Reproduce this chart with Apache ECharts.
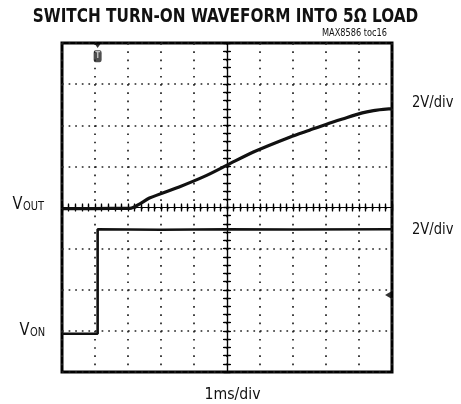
<!DOCTYPE html>
<html><head><meta charset="utf-8">
<script src="https://cdn.jsdelivr.net/npm/echarts@6/dist/echarts.min.js"></script>
<style>html,body{margin:0;padding:0;background:#fff}#c{width:461px;height:404px}</style>
</head><body><div id="c"></div>
<script>
// time in ms relative to screen centre (1 ms/div), voltages in volts (2 V/div)
const voutTime  = [-5, -4, -3, -2.94, -2.64, -2.35, -1.45, -0.7, 0, 0.8, 1.9, 2.5, 3.0, 3.5, 4.1, 4.4, 4.9, 5];
const voutVolts = [-0.06, -0.05, -0.04, -0.04, 0.18, 0.46, 1.0, 1.5, 2.06, 2.7, 3.42, 3.76, 4.04, 4.3, 4.6, 4.7, 4.8, 4.8];
const vonTime   = [-5, -3.92, -3.92, -2, 0, 2, 5];
const vonVolts  = [0, 0, 5.08, 5.06, 5.08, 5.07, 5.08];
const triggerTime = [-3.92];
const ch2MarkerDiv = [-2.13];
const voltsPerDiv = 2;
const voutGroundDiv = 0;
const vonGroundDiv = -3.07;
const timeMin = -5, timeMax = 5, divMin = -4, divMax = 4;

const FONT = '"Liberation Sans Narrow","DejaVu Sans Condensed","Liberation Sans",sans-serif';
const chart = echarts.init(document.getElementById('c'), null, {renderer: 'canvas'});

const G = {left: 62, top: 43, width: 330, height: 329};
function borderAxis(pos, gi, isX, split) {
  return {
    type: 'value', gridIndex: gi, position: pos,
    min: isX ? timeMin : divMin, max: isX ? timeMax : divMax, interval: 1,
    axisLine: {show: false},
    axisLabel: {show: false},
    axisTick: {show: true, inside: true, length: 4, lineStyle: {color: '#000', width: 1.2}},
    minorTick: {show: true, splitNumber: 5, length: 4, lineStyle: {color: '#000', width: 1.2}},
    splitLine: {show: split, lineStyle: {color: '#222', width: 1.7, type: isX ? [1.7, 6.52] : [1.7, 4.9]}}
  };
}
function centerAxis(pos, gi, isX) {
  return {
    type: 'value', gridIndex: gi, position: pos,
    min: isX ? timeMin : divMin, max: isX ? timeMax : divMax, interval: 1,
    axisLine: {show: true, onZero: true, lineStyle: {color: '#000', width: 1.2}},
    axisLabel: {show: false},
    axisTick: {show: true, inside: false, length: 3, lineStyle: {color: '#000', width: 1.3}},
    minorTick: {show: true, splitNumber: 5, length: 3, lineStyle: {color: '#000', width: 1.3}},
    splitLine: {show: false}
  };
}
function txt(text, x, y, size, opts) {
  opts = opts || {};
  return {
    type: 'text', x: x, y: y, scaleX: opts.sx || 1, z: 100,
    style: {text: text, font: (opts.bold ? 'bold ' : '') + size + 'px ' + FONT, fill: '#111',
            align: opts.align || 'left', verticalAlign: 'middle'}
  };
}

const option = {
  animation: false,
  backgroundColor: '#fff',
  grid: [
    Object.assign({show: true, borderColor: '#000', borderWidth: 3, backgroundColor: 'transparent'}, G),
    Object.assign({show: false}, G)
  ],
  xAxis: [
    borderAxis('bottom', 0, true, true),
    borderAxis('top', 0, true, false),
    centerAxis('bottom', 1, true),
    centerAxis('top', 1, true)
  ],
  yAxis: [
    borderAxis('left', 0, false, true),
    borderAxis('right', 0, false, false),
    centerAxis('left', 1, false),
    centerAxis('right', 1, false)
  ],
  series: [
    {
      type: 'line', xAxisIndex: 2, yAxisIndex: 2, showSymbol: false, smooth: 0.3,
      data: voutTime.map((t, i) => [t, voutVolts[i] / voltsPerDiv + voutGroundDiv]),
      lineStyle: {color: '#111', width: 3.2}, z: 5
    },
    {
      type: 'line', xAxisIndex: 2, yAxisIndex: 2, showSymbol: false,
      data: vonTime.map((t, i) => [t, vonVolts[i] / voltsPerDiv + vonGroundDiv]),
      lineStyle: {color: '#111', width: 2.6}, z: 5
    },
    {
      type: 'scatter', xAxisIndex: 2, yAxisIndex: 2,
      data: triggerTime.map(t => [t, divMax - 0.32]),
      symbol: 'roundRect', symbolSize: [8, 12],
      itemStyle: {color: '#222'},
      label: {show: true, position: 'inside', formatter: 'T', color: '#ddd', fontSize: 8, fontWeight: 'bold', fontFamily: FONT},
      z: 6
    },
    {
      type: 'scatter', xAxisIndex: 2, yAxisIndex: 2,
      data: triggerTime.map(t => [t, divMax - 0.06]),
      symbol: 'triangle', symbolRotate: 180, symbolSize: [7, 5],
      itemStyle: {color: '#000'}, z: 6
    },
    {
      type: 'scatter', xAxisIndex: 2, yAxisIndex: 2,
      data: ch2MarkerDiv.map(d => [timeMax - 0.12, d]),
      symbol: 'triangle', symbolRotate: 90, symbolSize: [7, 6],
      itemStyle: {color: '#000'}, z: 6
    }
  ],
  graphic: [
    txt('SWITCH TURN-ON WAVEFORM INTO 5\u03A9 LOAD', 225.5, 17, 20, {bold: true, align: 'center', sx: 0.85}),
    txt('MAX8586 toc16', 387, 33, 11, {align: 'right', sx: 0.83}),
    txt('2V/div', 412, 103, 16, {sx: 0.91}),
    txt('2V/div', 412, 230, 16, {sx: 0.91}),
    txt('1ms/div', 232.5, 395, 16.5, {align: 'center', sx: 0.95}),
    txt('V', 12.5, 205, 17, {sx: 0.95}),
    txt('OUT', 23, 207, 12.5, {sx: 0.88}),
    txt('V', 19.5, 331, 17, {sx: 0.95}),
    txt('ON', 30, 333, 12.5, {sx: 0.88})
  ]
};
chart.setOption(option);
</script>
</body></html>
